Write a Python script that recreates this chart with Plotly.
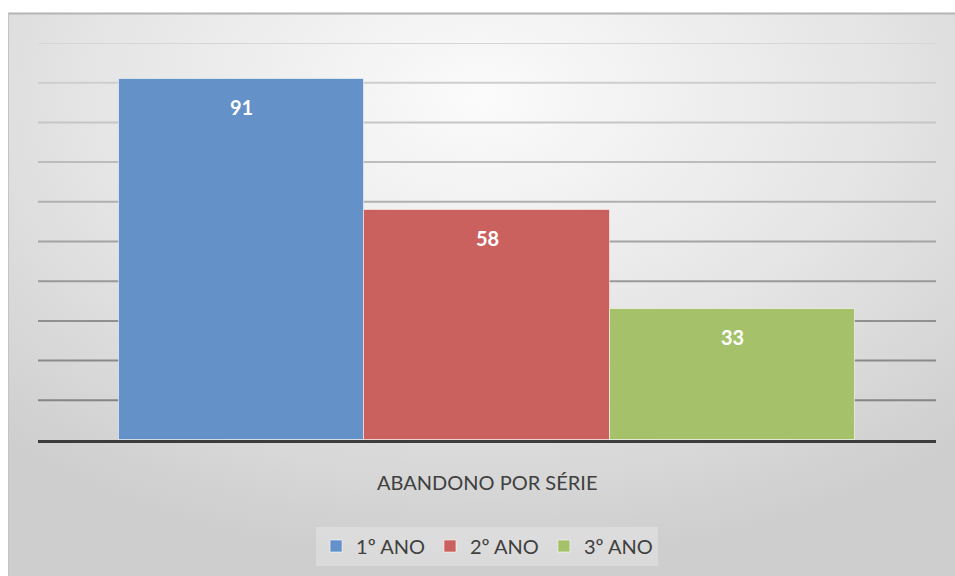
import base64
import plotly.graph_objects as go

# Dropout counts per school year
series_names = ["1º ANO", "2º ANO", "3º ANO"]
series_values = [91, 58, 33]
series_colors = ["#6491C7", "#CB615E", "#A5C26A"]
category_label = "ABANDONO POR SÉRIE"
grid_values = [10, 20, 30, 40, 50, 60, 70, 80, 90, 100]
grid_colors = ["#858585", "#8a8a8a", "#909090", "#999999", "#a3a3a3",
               "#b0b0b0", "#bcbcbc", "#c6c6c6", "#cecece", "#d6d6d6"]

W, H = 955, 576
FONT = "Lato, 'Open Sans', sans-serif"

# soft radial backdrop for the chart frame
svg = f"""<svg xmlns='http://www.w3.org/2000/svg' width='{W}' height='{H}' viewBox='0 0 {W} {H}'>
<defs>
<radialGradient id='g' cx='0.5' cy='0.15' r='0.75' gradientTransform='translate(0.5 0.15) scale(1 1.1) translate(-0.5 -0.15)'>
<stop offset='0' stop-color='#fbfbfb'/>
<stop offset='0.55' stop-color='#e5e5e5'/>
<stop offset='1' stop-color='#cecece'/>
</radialGradient>
</defs>
<rect x='0' y='0' width='{W}' height='{H}' fill='#ffffff'/>
<rect x='8' y='13' width='{W-8}' height='{H-13}' fill='url(#g)'/>
<line x1='8' y1='13.5' x2='{W}' y2='13.5' stroke='#b4b4b4' stroke-width='2'/>
<line x1='8.5' y1='13' x2='8.5' y2='{H}' stroke='#c4c4c4' stroke-width='1'/>
</svg>"""
bg_uri = "data:image/svg+xml;base64," + base64.b64encode(svg.encode()).decode()

fig = go.Figure()
for i, (name, val, col) in enumerate(zip(series_names, series_values, series_colors)):
    fig.add_trace(go.Bar(
        x=[i], y=[val], width=[1.0], name=name,
        marker=dict(color=col, line=dict(color="rgba(255,255,255,0.55)", width=1)),
        hoverinfo="name+y",
    ))
    # value label inside the top of each bar
    fig.add_annotation(
        x=i, y=val, xref="x", yref="y", text=f"<b>{val}</b>",
        showarrow=False, yanchor="middle", yshift=-28,
        font=dict(family=FONT, size=20, color="white"),
    )

# gridlines, fading toward the top
shapes = []
for gv, gc in zip(grid_values, grid_colors):
    shapes.append(dict(type="line", xref="paper", yref="y", x0=38 / W, x1=936 / W,
                       y0=gv, y1=gv, line=dict(color=gc, width=2), layer="below"))

fig.add_annotation(
    x=1, y=1 - 482 / H, xref="x", yref="paper", text=category_label,
    showarrow=False, yanchor="middle",
    font=dict(family=FONT, size=20, color="#404040"),
)

fig.update_layout(
    width=W, height=H,
    margin=dict(l=0, r=0, t=0, b=0),
    paper_bgcolor="white", plot_bgcolor="rgba(0,0,0,0)",
    barmode="overlay", bargap=0,
    images=[dict(source=bg_uri, xref="paper", yref="paper", x=0, y=1,
                 sizex=1, sizey=1, sizing="stretch", layer="below",
                 xanchor="left", yanchor="top")],
    xaxis=dict(domain=[38 / W, 936 / W], range=[-0.83, 2.83], showgrid=False,
               zeroline=False, showticklabels=False, ticks="", fixedrange=True,
               showline=True, linecolor="#3c3c3c", linewidth=3),
    yaxis=dict(domain=[1 - 440 / H, 1 - 43 / H], range=[0, 100], showgrid=False,
               zeroline=False, showticklabels=False, ticks="", fixedrange=True),
    shapes=shapes,
    showlegend=True,
    legend=dict(orientation="h", x=0.51, xanchor="center", y=1 - 546 / H, yanchor="middle",
                bgcolor="rgba(255,255,255,0.25)", font=dict(family=FONT, size=20, color="#404040"),
                itemwidth=30, traceorder="normal", itemclick=False, itemdoubleclick=False),
    font=dict(family=FONT),
)

fig.write_html("out.html")
